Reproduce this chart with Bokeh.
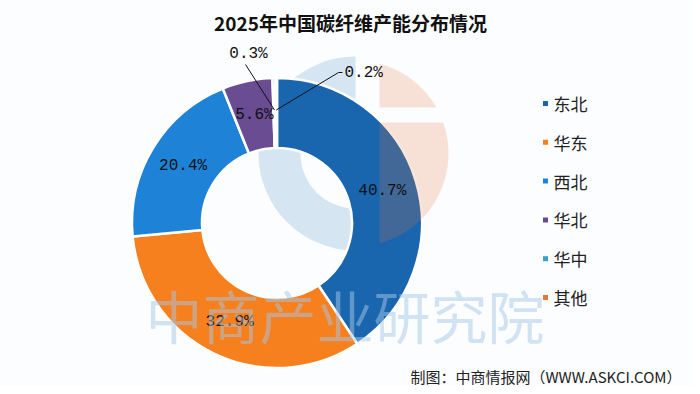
import numpy as np
from bokeh.plotting import figure
from bokeh.models import ColumnDataSource, Range1d
from bokeh.core.properties import value
from bokeh.embed import file_html
from bokeh.resources import INLINE

# ---------------- data ----------------
title = "2025年中国碳纤维产能分布情况"
regions = ["东北", "华东", "西北", "华北", "华中", "其他"]
shares = [40.7, 32.9, 20.4, 5.6, 0.3, 0.2]
colors = ["#1a66ae", "#f67f1e", "#1e83d6", "#6a4c93", "#3a9fcf", "#e07a36"]
source_note = "制图：中商情报网（WWW.ASKCI.COM）"
watermark = "中商产业研究院"

# ---------------- layout ----------------
W, H = 692, 386
BG = "#fcfdfe"


def px(x):
    return x


def py(y):
    return H - y


p = figure(width=W, height=H, x_range=Range1d(0, W), y_range=Range1d(0, H),
           output_backend="svg", toolbar_location=None, min_border=0)
p.axis.visible = False
p.grid.visible = False
p.outline_line_color = None
p.background_fill_color = BG
p.border_fill_color = BG

CJK = value("Noto Sans CJK SC")
MONO = value("Liberation Mono")

# logo watermark (behind): light blue half ring
lcx, lcy = px(355), py(153)
p.annular_wedge(x=lcx, y=lcy, inner_radius=55, outer_radius=97,
                start_angle=np.pi / 2, end_angle=3 * np.pi / 2, direction="anticlock",
                fill_color="#d5e5f1", line_color=None)

# ---------------- donut ----------------
cx, cy = px(276.5), py(222.5)
r_in, r_out = 75, 145

vals = np.array(shares, dtype=float)
frac = vals / vals.sum()
cum = np.concatenate([[0.0], np.cumsum(frac)])
start = np.pi / 2 - 2 * np.pi * cum[:-1]
end = np.pi / 2 - 2 * np.pi * cum[1:]
mid = (start + end) / 2

src = ColumnDataSource(dict(region=regions, share=shares, color=colors,
                            start=start, end=end))
p.annular_wedge(x=cx, y=cy, inner_radius=r_in, outer_radius=r_out,
                start_angle="start", end_angle="end", direction="clock",
                fill_color="color", line_color="white", line_width=2.5, source=src)

# logo watermark (over): peach half disc cut by a vertical edge and a slot
LR, LX0, SLOT_T, SLOT_B = 93, 24, 46, 31


def arc(a0, a1, n=40):
    t = np.linspace(a0, a1, n)
    return list(lcx + LR * np.cos(t)), list(lcy + LR * np.sin(t))


a_edge = np.arccos(LX0 / LR)
ux, uy = arc(np.arcsin(SLOT_T / LR), a_edge)
ux += [lcx + LX0]
uy += [lcy + SLOT_T]
dx, dy = arc(-a_edge, np.arcsin(SLOT_B / LR))
dx += [lcx + LX0]
dy += [lcy + SLOT_B]
p.patches(xs=[ux, dx], ys=[uy, dy], fill_color="#e6733c", fill_alpha=0.2,
          line_color=None)

# inner labels
lab_r = 110
big = [i for i, s in enumerate(shares) if s >= 1]
p.text(x=[cx + lab_r * np.cos(mid[i]) for i in big],
       y=[cy + lab_r * np.sin(mid[i]) for i in big],
       text=[f"{shares[i]}%" for i in big],
       text_align="center", text_baseline="middle",
       text_font=MONO, text_font_size="16px", text_color="#111111")

# small labels with leader lines (label anchor offsets are layout)
small = [i for i, s in enumerate(shares) if s < 1]
anchors = {4: [(px(245), py(64))], 5: [(px(338), py(72)), (px(342), py(72))]}
label_pos = {4: (px(248), py(53), "center"), 5: (px(344), py(72), "left")}
lead_r = 113
for i in small:
    xs = [cx + lead_r * np.cos(mid[i])] + [a[0] for a in anchors[i]]
    ys = [cy + lead_r * np.sin(mid[i])] + [a[1] for a in anchors[i]]
    p.line(xs, ys, line_color="#111111", line_width=1)
    lx, ly, al = label_pos[i]
    p.text(x=[lx], y=[ly], text=[f"{shares[i]}%"], text_align=al,
           text_baseline="middle", text_font=MONO, text_font_size="16px",
           text_color="#111111")

# ---------------- legend ----------------
leg_x, leg_y0, leg_dy = px(545), py(103), 38.8
leg_y = [leg_y0 - k * leg_dy for k in range(len(regions))]
p.scatter(x=[leg_x] * len(regions), y=leg_y, marker="square", size=5,
          fill_color=colors, line_color=None)
p.text(x=[leg_x + 8] * len(regions), y=leg_y, text=regions,
       text_align="left", text_baseline="middle", text_font=CJK,
       text_font_size="17px", text_color="#222222")

# ---------------- texts ----------------
p.text(x=[px(145)], y=[py(313)], text=[watermark], text_align="left",
       text_baseline="middle", text_font=CJK, text_font_size="57px",
       text_color="#a6c8e8", text_alpha=0.5)

p.text(x=[px(350)], y=[py(22)], text=[title], text_align="center",
       text_baseline="middle", text_font=CJK, text_font_size="19px",
       text_font_style="bold", text_color="#111111")

p.text(x=[px(681)], y=[py(376)], text=[source_note], text_align="right",
       text_baseline="middle", text_font=CJK, text_font_size="15px",
       text_color="#222222")

open("out.html", "w").write(file_html(p, INLINE))
